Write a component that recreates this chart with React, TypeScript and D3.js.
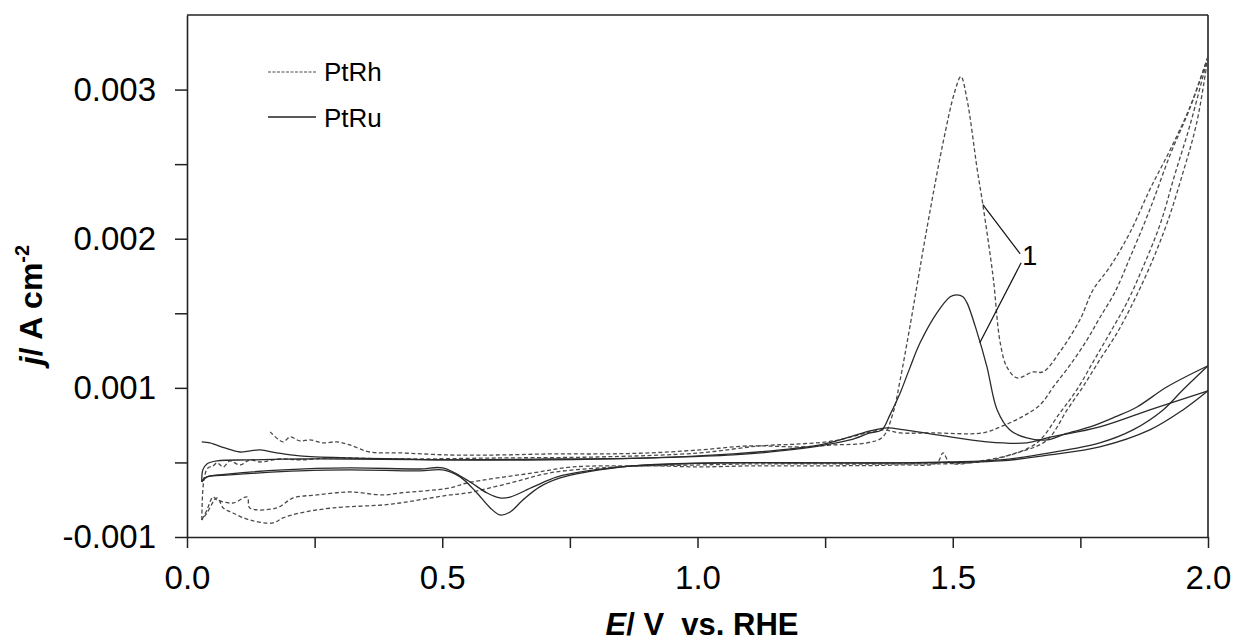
import React, { useEffect, useRef } from "react";
import * as d3 from "d3";

const width = 1236,
  height = 642;
const margin = { top: 15, right: 28, bottom: 105, left: 187 };

// potentials in V vs. RHE, currents in mA cm-2 (axis ticks printed as A cm-2)
// PtRh (dashed) – first anodic sweep starts at 0.16 V and carries peak "1"
const rhAnodic1E = [0.163, 0.188, 0.202, 0.221, 0.241, 0.266, 0.294, 0.319, 0.358, 0.417, 0.515, 0.613, 0.711, 0.809, 0.907, 1.005, 1.103, 1.201, 1.265, 1.332, 1.363, 1.383, 1.397, 1.416, 1.45, 1.481, 1.504, 1.516, 1.528, 1.548, 1.559, 1.579, 1.593, 1.606, 1.626, 1.657, 1.677, 1.71, 1.749, 1.775, 1.808, 1.847, 1.886, 1.926, 1.965, 2.0];
const rhAnodic1J = [0.705, 0.638, 0.671, 0.644, 0.651, 0.631, 0.638, 0.617, 0.57, 0.564, 0.55, 0.55, 0.557, 0.557, 0.564, 0.584, 0.611, 0.604, 0.617, 0.631, 0.671, 0.832, 1.054, 1.409, 2.081, 2.644, 2.987, 3.087, 2.933, 2.463, 2.228, 1.745, 1.302, 1.141, 1.067, 1.107, 1.107, 1.242, 1.456, 1.658, 1.812, 2.04, 2.329, 2.597, 2.886, 3.221];
const rhCathodic1E = [2.0, 1.978, 1.951, 1.92, 1.886, 1.853, 1.822, 1.788, 1.755, 1.724, 1.685, 1.632, 1.567, 1.495, 1.481, 1.469, 1.397, 1.24, 1.103, 1.005, 0.907, 0.809, 0.711, 0.633, 0.548, 0.515, 0.417, 0.384, 0.286, 0.221, 0.188, 0.168, 0.123, 0.09, 0.071, 0.059, 0.039, 0.029];
const rhCathodic1J = [3.221, 2.779, 2.443, 2.107, 1.812, 1.57, 1.369, 1.188, 1.007, 0.852, 0.651, 0.57, 0.517, 0.497, 0.564, 0.497, 0.483, 0.477, 0.477, 0.47, 0.477, 0.463, 0.43, 0.362, 0.295, 0.282, 0.228, 0.215, 0.195, 0.161, 0.128, 0.094, 0.114, 0.161, 0.195, 0.262, 0.161, 0.114];
const rhAnodic2E = [0.029, 0.031, 0.035, 0.041, 0.051, 0.059, 0.071, 0.084, 0.104, 0.123, 0.143, 0.182, 0.221, 0.28, 0.417, 0.613, 0.809, 1.005, 1.122, 1.201, 1.265, 1.332, 1.363, 1.397, 1.461, 1.559, 1.593, 1.632, 1.671, 1.7, 1.73, 1.763, 1.788, 1.818, 1.847, 1.886, 1.926, 1.965, 2.0];
const rhAnodic2J = [0.114, 0.315, 0.416, 0.463, 0.477, 0.497, 0.47, 0.51, 0.483, 0.517, 0.503, 0.523, 0.517, 0.53, 0.523, 0.53, 0.537, 0.564, 0.611, 0.624, 0.644, 0.698, 0.718, 0.698, 0.698, 0.698, 0.738, 0.799, 0.886, 1.02, 1.154, 1.322, 1.47, 1.644, 1.872, 2.195, 2.564, 2.879, 3.221];
const rhCathodic2E = [2.0, 1.965, 1.935, 1.906, 1.873, 1.841, 1.808, 1.775, 1.743, 1.71, 1.665, 1.612, 1.553, 1.397, 1.24, 1.103, 1.005, 0.887, 0.756, 0.678, 0.548, 0.515, 0.417, 0.384, 0.319, 0.255, 0.208, 0.176, 0.123, 0.118, 0.09, 0.059, 0.051, 0.039, 0.029];
const rhCathodic2J = [3.221, 2.765, 2.43, 2.094, 1.812, 1.57, 1.369, 1.174, 0.987, 0.832, 0.631, 0.55, 0.503, 0.49, 0.49, 0.49, 0.483, 0.477, 0.47, 0.43, 0.362, 0.329, 0.295, 0.282, 0.302, 0.282, 0.262, 0.195, 0.195, 0.268, 0.228, 0.248, 0.268, 0.181, 0.114];

// PtRu (solid)
const ruAnodic1E = [0.029, 0.045, 0.074, 0.104, 0.143, 0.176, 0.221, 0.319, 0.417, 0.515, 0.711, 0.907, 1.07, 1.162, 1.24, 1.299, 1.338, 1.361, 1.377, 1.397, 1.416, 1.436, 1.469, 1.495, 1.508, 1.52, 1.528, 1.548, 1.567, 1.587, 1.612, 1.645, 1.685, 1.72, 1.769, 1.818, 1.861, 1.92, 2.0];
const ruAnodic1J = [0.638, 0.631, 0.597, 0.57, 0.584, 0.564, 0.544, 0.53, 0.523, 0.517, 0.517, 0.53, 0.55, 0.577, 0.611, 0.651, 0.698, 0.718, 0.819, 0.966, 1.134, 1.302, 1.503, 1.611, 1.624, 1.611, 1.57, 1.369, 1.141, 0.852, 0.718, 0.664, 0.651, 0.691, 0.738, 0.805, 0.872, 1.007, 1.148];
const ruCathodic1E = [2.0, 1.951, 1.912, 1.853, 1.788, 1.69, 1.593, 1.495, 1.397, 1.24, 1.044, 0.874, 0.784, 0.731, 0.691, 0.658, 0.633, 0.613, 0.594, 0.568, 0.535, 0.501, 0.456, 0.319, 0.221, 0.143, 0.084, 0.039, 0.029];
const ruCathodic1J = [1.148, 0.987, 0.852, 0.718, 0.631, 0.564, 0.517, 0.503, 0.497, 0.497, 0.497, 0.477, 0.436, 0.396, 0.336, 0.248, 0.168, 0.148, 0.195, 0.295, 0.403, 0.45, 0.443, 0.45, 0.443, 0.43, 0.416, 0.403, 0.369];
const ruAnodic2E = [0.029, 0.031, 0.039, 0.059, 0.123, 0.221, 0.319, 0.515, 0.711, 0.907, 1.07, 1.162, 1.24, 1.299, 1.338, 1.371, 1.406, 1.469, 1.567, 1.645, 1.685, 1.788, 1.886, 2.0];
const ruAnodic2J = [0.369, 0.45, 0.49, 0.51, 0.517, 0.523, 0.523, 0.517, 0.523, 0.53, 0.557, 0.584, 0.617, 0.671, 0.711, 0.732, 0.718, 0.685, 0.638, 0.631, 0.664, 0.738, 0.852, 0.98];
const ruCathodic2E = [2.0, 1.951, 1.886, 1.788, 1.69, 1.593, 1.397, 1.24, 1.044, 0.874, 0.784, 0.725, 0.678, 0.633, 0.613, 0.588, 0.548, 0.501, 0.456, 0.319, 0.188, 0.084, 0.039, 0.029];
const ruCathodic2J = [0.98, 0.852, 0.718, 0.604, 0.55, 0.51, 0.497, 0.497, 0.497, 0.477, 0.443, 0.403, 0.336, 0.268, 0.262, 0.295, 0.383, 0.463, 0.456, 0.463, 0.45, 0.423, 0.403, 0.376];

// axis ticks (the source chart prints "-0.001" at its lowest tick)
const yTickValues = [0, 0.5, 1, 1.5, 2, 2.5, 3];
const yTickLabels = ["-0.001", "", "0.001", "", "0.002", "", "0.003"];
const xTickValues = [0, 0.25, 0.5, 0.75, 1, 1.25, 1.5, 1.75, 2];
const xTickLabels = ["0.0", "", "0.5", "", "1.0", "", "1.5", "", "2.0"];

// annotation "1": label and the two points it points at
const noteLabel = [1.636, 1.826];
const noteTargets = [
  [[1.632, 1.899], [1.559, 2.228]],
  [[1.634, 1.839], [1.553, 1.302]],
];

const xScale = d3
  .scaleLinear()
  .domain([0, 2])
  .range([margin.left, width - margin.right]);
const yScale = d3
  .scaleLinear()
  .domain([0, 3.5])
  .range([height - margin.bottom, margin.top]);

const line = d3
  .line<[number, number]>()
  .x((d) => xScale(d[0]))
  .y((d) => yScale(d[1]))
  .curve(d3.curveCatmullRom.alpha(0.5));

const pts = (e: number[], j: number[]) => d3.zip(e, j) as [number, number][];

const dashedSweeps = [
  pts(rhAnodic1E, rhAnodic1J),
  pts(rhCathodic1E, rhCathodic1J),
  pts(rhAnodic2E, rhAnodic2J),
  pts(rhCathodic2E, rhCathodic2J),
];
const solidSweeps = [
  pts(ruAnodic1E, ruAnodic1J),
  pts(ruCathodic1E, ruCathodic1J),
  pts(ruAnodic2E, ruAnodic2J),
  pts(ruCathodic2E, ruCathodic2J),
];

const font = "'Liberation Sans', Arial, sans-serif";

export default function App() {
  const xAxisRef = useRef<SVGGElement>(null);
  const yAxisRef = useRef<SVGGElement>(null);

  useEffect(() => {
    const xAxis = d3
      .axisBottom(xScale)
      .tickValues(xTickValues)
      .tickFormat((_, i) => xTickLabels[i])
      .tickSize(11)
      .tickSizeOuter(0)
      .tickPadding(18);
    const yAxis = d3
      .axisLeft(yScale)
      .tickValues(yTickValues)
      .tickFormat((_, i) => yTickLabels[i])
      .tickSize(12)
      .tickSizeOuter(0)
      .tickPadding(19);
    const gx = d3.select(xAxisRef.current).call(xAxis);
    const gy = d3.select(yAxisRef.current).call(yAxis);
    [gx, gy].forEach((g) => {
      g.select(".domain").attr("stroke", "#222").attr("stroke-width", 1.6);
      g.selectAll(".tick line").attr("stroke", "#222").attr("stroke-width", 1.5);
      g.selectAll(".tick text")
        .attr("fill", "#000")
        .style("font-family", font)
        .style("font-size", "33px");
    });
  }, []);

  const [lx, ly] = [xScale(noteLabel[0]), yScale(noteLabel[1])];

  return (
    <svg
      width={width}
      height={height}
      style={{ position: "absolute", left: 0, top: 0, background: "#fff" }}
    >
      <rect width={width} height={height} fill="#fff" />

      {/* frame top and right */}
      <line x1={xScale(0)} x2={xScale(2)} y1={yScale(3.5)} y2={yScale(3.5)} stroke="#222" strokeWidth={1.6} />
      <line x1={xScale(2)} x2={xScale(2)} y1={yScale(3.5)} y2={yScale(0)} stroke="#222" strokeWidth={1.6} />

      {dashedSweeps.map((d, i) => (
        <path key={"rh" + i} d={line(d) ?? ""} fill="none" stroke="#4a4a4a" strokeWidth={1.3} strokeDasharray="4 2.5" />
      ))}
      {solidSweeps.map((d, i) => (
        <path key={"ru" + i} d={line(d) ?? ""} fill="none" stroke="#2a2a2a" strokeWidth={1.3} />
      ))}

      <g ref={xAxisRef} transform={`translate(0,${yScale(0)})`} />
      <g ref={yAxisRef} transform={`translate(${xScale(0)},0)`} />

      {/* annotation 1 */}
      {noteTargets.map((seg, i) => (
        <line
          key={"note" + i}
          x1={xScale(seg[0][0])}
          y1={yScale(seg[0][1])}
          x2={xScale(seg[1][0])}
          y2={yScale(seg[1][1])}
          stroke="#111"
          strokeWidth={1.2}
        />
      ))}
      <text x={lx} y={ly} fontFamily={font} fontSize={27} fill="#000">1</text>

      {/* legend */}
      <line x1={268} x2={316} y1={72} y2={72} stroke="#4a4a4a" strokeWidth={1.2} strokeDasharray="3 1.5" />
      <text x={324} y={81} fontFamily={font} fontSize={26} fill="#000">PtRh</text>
      <line x1={268} x2={316} y1={117} y2={117} stroke="#222" strokeWidth={1.3} />
      <text x={324} y={127} fontFamily={font} fontSize={26} fill="#000">PtRu</text>

      {/* axis titles */}
      <text
        transform="translate(42,305) rotate(-90)"
        textAnchor="middle"
        fontFamily={font}
        fontSize={32}
        fontWeight="bold"
        fill="#000"
      >
        <tspan fontStyle="italic">j</tspan>
        <tspan>/ A cm</tspan>
        <tspan fontSize={20} dy={-13}>-2</tspan>
      </text>
      <text
        x={702}
        y={635}
        textAnchor="middle"
        fontFamily={font}
        fontSize={31}
        fontWeight="bold"
        fill="#000"
        style={{ whiteSpace: "pre" }}
      >
        <tspan fontStyle="italic">E</tspan>
        <tspan>{"/ V  vs. RHE"}</tspan>
      </text>
    </svg>
  );
}
